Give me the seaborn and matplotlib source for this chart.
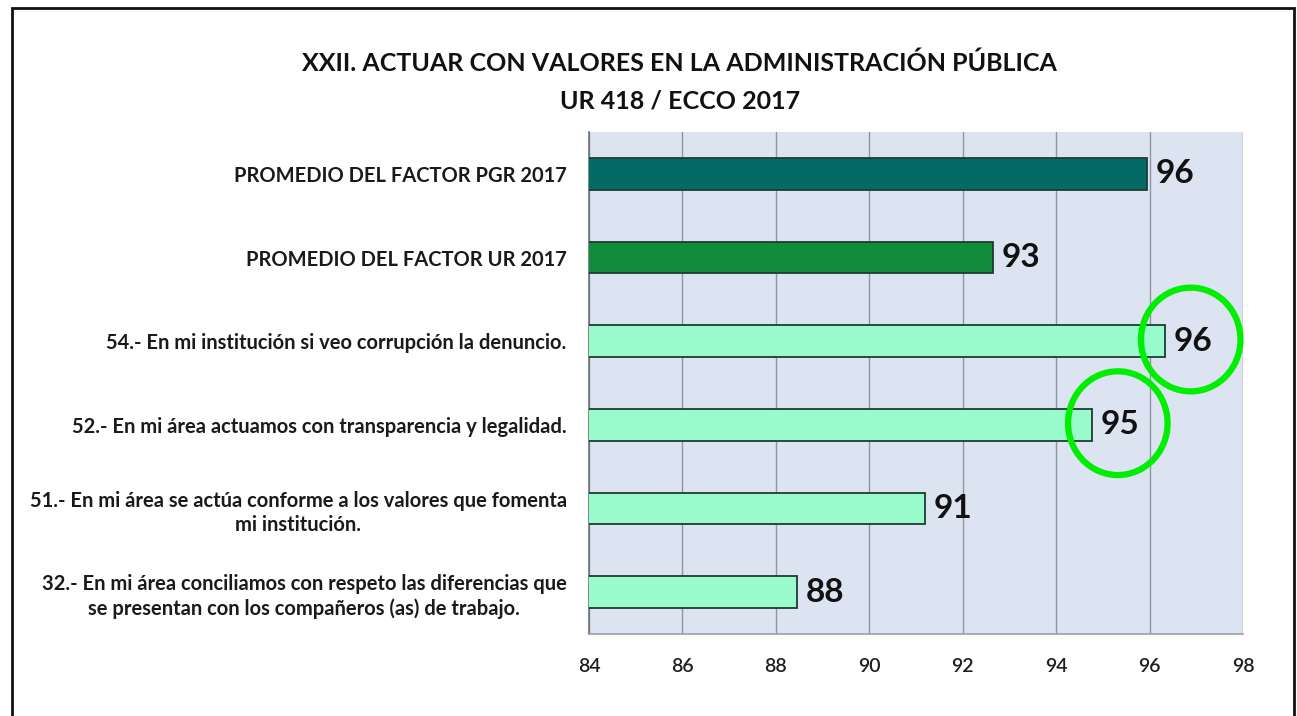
import matplotlib
matplotlib.use("Agg")
import matplotlib.pyplot as plt
from matplotlib.patches import Ellipse, Rectangle
import seaborn as sns
import pandas as pd

# Chart data
categories = [
    "PROMEDIO DEL FACTOR PGR 2017",
    "PROMEDIO DEL FACTOR UR 2017",
    "54.- En mi institución si veo corrupción la denuncio.",
    "52.- En mi área actuamos con transparencia y legalidad.",
    "51.- En mi área se actúa conforme a los valores que fomenta\nmi institución.",
    "32.- En mi área conciliamos con respeto las diferencias que\nse presentan con los compañeros (as) de trabajo.",
]
values = [95.95, 92.65, 96.33, 94.77, 91.19, 88.45]
bar_colors = ["#036a66", "#118c3d", "#99fbcb", "#99fbcb", "#99fbcb", "#99fbcb"]
highlighted = [2, 3]  # items circled in green
x_ticks = [84, 86, 88, 90, 92, 94, 96, 98]

title_lines = ["XXII. ACTUAR CON VALORES EN LA ADMINISTRACIÓN PÚBLICA", "UR 418 / ECCO 2017"]

sns.set_theme(style="white")
plt.rcParams["font.family"] = ["Lato", "DejaVu Sans"]

df = pd.DataFrame({"item": categories, "valor": values})

fig = plt.figure(figsize=(12.97, 7.16), dpi=100)
ax = fig.add_axes([0.4541, 0.1145, 0.5043, 0.7011])
ax.set_facecolor("#dce3f1")

sns.barplot(
    data=df, x="valor", y="item", hue="item", palette=bar_colors,
    saturation=1, legend=False, orient="h", width=0.38, edgecolor="#1f3b33",
    linewidth=1.3, ax=ax, zorder=3,
)

ax.set_xlim(x_ticks[0], x_ticks[-1])
ax.set_xticks(x_ticks)
ax.set_xticklabels([str(t) for t in x_ticks], fontsize=14, color="#1f1f1f",
                   fontweight="semibold")
ax.tick_params(axis="x", length=0, pad=17)
ax.tick_params(axis="y", length=0, pad=16)
ax.set_xlabel("")
ax.set_ylabel("")
for lab in ax.get_yticklabels():
    lab.set_fontsize(14.5)
    lab.set_fontweight("bold")
    lab.set_color("#1a1a1a")
    lab.set_multialignment("center")
    lab.set_linespacing(1.25)

ax.grid(axis="x", color="#8f96a0", linewidth=1.0, zorder=0)
ax.set_axisbelow(True)
for side in ["top", "right"]:
    ax.spines[side].set_visible(False)
ax.spines["left"].set_color("#6e7378")
ax.spines["left"].set_linewidth(1.2)
ax.spines["bottom"].set_color("#9aa0a8")
ax.spines["bottom"].set_linewidth(1.2)

# Value labels at bar ends
for i, v in enumerate(values):
    ax.text(v + 0.18, i, f"{v:.0f}", va="center", ha="left", fontsize=24,
            fontweight="bold", color="#111111", zorder=5)

# Green highlight rings around selected values
for i in highlighted:
    cx = values[i] + 0.55
    ax.add_patch(Ellipse((cx, i - 0.02), width=2.13, height=1.24, fill=False,
                         edgecolor="#00ee00", linewidth=4.5, zorder=6, clip_on=False))

fig.text(0.524, 0.911, title_lines[0], ha="center", va="center",
         fontsize=18, fontweight="bold", color="#111111")
fig.text(0.524, 0.859, title_lines[1], ha="center", va="center",
         fontsize=18, fontweight="bold", color="#111111")

# Outer frame
fig.patches.append(Rectangle((12 / 1297, -0.01), (1294 - 12) / 1297, 1 - 8 / 716 + 0.01,
                             transform=fig.transFigure, fill=False,
                             edgecolor="#111111", linewidth=2, zorder=10))

fig.savefig("out.png", dpi=100)
